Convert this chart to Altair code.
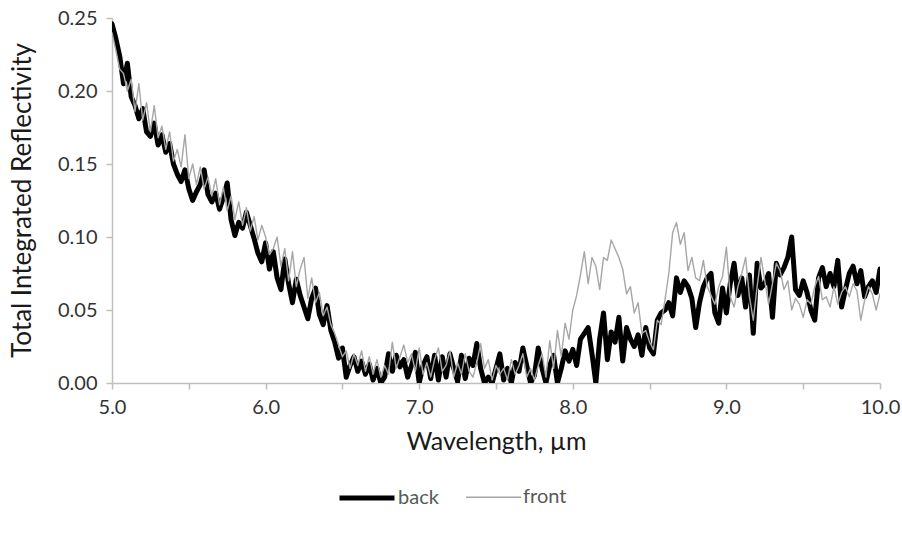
import altair as alt
import pandas as pd

# sampling grid of the spectrum (µm)
wavelength = [round(5 + i * 0.025, 3) for i in range(201)]

back = [
    0.246, 0.236, 0.224, 0.205, 0.219, 0.196, 0.190, 0.181, 0.188, 0.172,
    0.169, 0.178, 0.163, 0.170, 0.158, 0.164, 0.150, 0.143, 0.138, 0.146,
    0.133, 0.125, 0.131, 0.136, 0.146, 0.129, 0.124, 0.130, 0.119, 0.127,
    0.137, 0.112, 0.101, 0.110, 0.106, 0.117, 0.108, 0.099, 0.089, 0.083,
    0.096, 0.078, 0.090, 0.072, 0.064, 0.085, 0.068, 0.055, 0.071, 0.060,
    0.052, 0.044, 0.058, 0.065, 0.047, 0.040, 0.053, 0.036, 0.028, 0.017,
    0.024, 0.004, 0.012, 0.018, 0.008, 0.015, 0.006, 0.013, 0.002, 0.010,
    0.000, 0.004, 0.020, 0.008, 0.019, 0.011, 0.016, 0.004, 0.012, 0.021,
    0.000, 0.012, 0.018, 0.003, 0.019, 0.002, 0.018, 0.004, 0.020, 0.010,
    0.001, 0.019, 0.003, 0.017, 0.012, 0.027, 0.010, 0.000, 0.004, 0.000,
    0.010, 0.020, 0.002, 0.010, 0.000, 0.014, 0.008, 0.024, 0.012, 0.000,
    0.005, 0.024, 0.010, 0.000, 0.012, 0.019, 0.000, 0.010, 0.022, 0.015,
    0.023, 0.012, 0.030, 0.034, 0.038, 0.020, 0.000, 0.030, 0.048, 0.016,
    0.035, 0.028, 0.045, 0.015, 0.038, 0.030, 0.025, 0.033, 0.019, 0.038,
    0.024, 0.020, 0.043, 0.048, 0.050, 0.055, 0.046, 0.072, 0.062, 0.070,
    0.066, 0.058, 0.038, 0.055, 0.066, 0.072, 0.075, 0.048, 0.041, 0.065,
    0.048, 0.068, 0.082, 0.060, 0.072, 0.052, 0.074, 0.034, 0.082, 0.065,
    0.068, 0.075, 0.045, 0.082, 0.074, 0.079, 0.086, 0.100, 0.064, 0.060,
    0.070, 0.062, 0.050, 0.043, 0.072, 0.079, 0.066, 0.075, 0.066, 0.084,
    0.052, 0.064, 0.075, 0.080, 0.068, 0.077, 0.059, 0.066, 0.070, 0.062,
    0.078,
]

front = [
    0.240, 0.228, 0.215, 0.212, 0.200, 0.208, 0.186, 0.205, 0.180, 0.192,
    0.172, 0.190, 0.168, 0.176, 0.160, 0.172, 0.152, 0.160, 0.148, 0.170,
    0.140, 0.150, 0.136, 0.148, 0.133, 0.141, 0.128, 0.140, 0.122, 0.134,
    0.118, 0.128, 0.112, 0.124, 0.108, 0.120, 0.104, 0.114, 0.098, 0.108,
    0.100, 0.088, 0.092, 0.100, 0.080, 0.092, 0.070, 0.090, 0.066, 0.078,
    0.086, 0.058, 0.072, 0.055, 0.062, 0.046, 0.052, 0.040, 0.034, 0.026,
    0.018, 0.022, 0.010, 0.020, 0.012, 0.022, 0.008, 0.018, 0.006, 0.016,
    0.004, 0.012, 0.006, 0.028, 0.010, 0.018, 0.026, 0.014, 0.020, 0.008,
    0.024, 0.006, 0.014, 0.004, 0.016, 0.024, 0.008, 0.012, 0.022, 0.004,
    0.014, 0.006, 0.020, 0.008, 0.004, 0.014, 0.027, 0.010, 0.016, 0.002,
    0.012, 0.006, 0.010, 0.002, 0.016, 0.006, 0.012, 0.020, 0.004, 0.010,
    0.002, 0.012, 0.020, 0.004, 0.029, 0.010, 0.036, 0.018, 0.041, 0.030,
    0.050, 0.060, 0.074, 0.090, 0.068, 0.086, 0.080, 0.064, 0.086, 0.084,
    0.098, 0.092, 0.086, 0.078, 0.061, 0.066, 0.048, 0.055, 0.034, 0.036,
    0.028, 0.023, 0.043, 0.040, 0.057, 0.075, 0.103, 0.110, 0.095, 0.103,
    0.077, 0.086, 0.072, 0.070, 0.084, 0.066, 0.060, 0.054, 0.066, 0.073,
    0.093, 0.059, 0.052, 0.066, 0.075, 0.086, 0.059, 0.043, 0.066, 0.086,
    0.070, 0.054, 0.068, 0.082, 0.077, 0.064, 0.070, 0.050, 0.058, 0.054,
    0.045, 0.057, 0.054, 0.066, 0.073, 0.057, 0.059, 0.052, 0.066, 0.054,
    0.062, 0.066, 0.059, 0.068, 0.063, 0.043, 0.057, 0.066, 0.061, 0.050,
    0.061,
]

series_names = ["back", "front"]
series_colors = ["#000000", "#A6A6A6"]
series_widths = [5, 1.4]

x_ticks = [5.0, 5.5, 6.0, 6.5, 7.0, 7.5, 8.0, 8.5, 9.0, 9.5, 10.0]
y_ticks = [0.0, 0.05, 0.10, 0.15, 0.20, 0.25]

n = len(wavelength)
df = pd.DataFrame({
    "wavelength": wavelength * 2,
    "value": back + front,
    "series": [series_names[0]] * n + [series_names[1]] * n,
})

FONT = "Lato"
AXIS_GREY = "#BFBFBF"
LEFT = 112


def legend_spec():
    return alt.Legend(
        title=None, orient="none", direction="horizontal",
        legendX=225, legendY=450, symbolType="stroke", symbolSize=3025,
        labelFont=FONT, labelFontSize=20, labelColor="#595959",
        labelOffset=1, columnPadding=24, padding=0,
    )


color = alt.Color(
    "series:N",
    scale=alt.Scale(domain=series_names, range=series_colors),
    legend=legend_spec(),
)
width_enc = alt.StrokeWidth(
    "series:N",
    scale=alt.Scale(domain=series_names, range=series_widths),
    legend=legend_spec(),
)

x_enc = alt.X(
    "wavelength:Q",
    scale=alt.Scale(domain=[5, 10], nice=False, zero=False),
    axis=alt.Axis(
        title="Wavelength, µm", values=x_ticks,
        labelExpr="datum.value % 1 === 0 ? format(datum.value, '.1f') : ''",
        labelOverlap=False, labelFlush=False, grid=False,
        domainColor=AXIS_GREY, domainWidth=1.5, tickColor=AXIS_GREY, tickWidth=1.5, tickSize=6,
        labelFont=FONT, labelFontSize=20, labelColor="#333333", labelPadding=8,
        titleFont=FONT, titleFontSize=25, titleFontWeight="normal", titleColor="#1a1a1a",
        titleY=58, titleBaseline="middle",
    ),
)
y_enc = alt.Y(
    "value:Q",
    scale=alt.Scale(domain=[0, 0.25], nice=False),
    axis=alt.Axis(
        title="Total Integrated Reflectivity", values=y_ticks, format=".2f",
        labelFlush=False, labelOverlap=False, grid=False,
        domainColor=AXIS_GREY, domainWidth=1.5, tickColor=AXIS_GREY, tickWidth=1.5, tickSize=6,
        labelFont=FONT, labelFontSize=20, labelColor="#333333", labelPadding=9,
        titleFont=FONT, titleFontSize=26, titleFontWeight="normal", titleColor="#1a1a1a",
        titleX=22 - LEFT, titleY=182, titleBaseline="middle", titleAngle=270,
    ),
)

base = alt.Chart(df).mark_line(strokeJoin="round", strokeCap="round", clip=True).encode(
    x=x_enc, y=y_enc, color=color, strokeWidth=width_enc,
)

layer_back = base.transform_filter(alt.datum.series == "back")
layer_front = base.transform_filter(alt.datum.series == "front")

chart = alt.layer(layer_back, layer_front).properties(
    width=880 - LEFT, height=365,
    autosize=alt.AutoSizeParams(type="none"),
    padding={"left": LEFT, "top": 18, "right": 22, "bottom": 154},
    background="white",
).configure_view(stroke=None)

chart.save("out.html", embed_options={"renderer": "svg", "actions": False})
